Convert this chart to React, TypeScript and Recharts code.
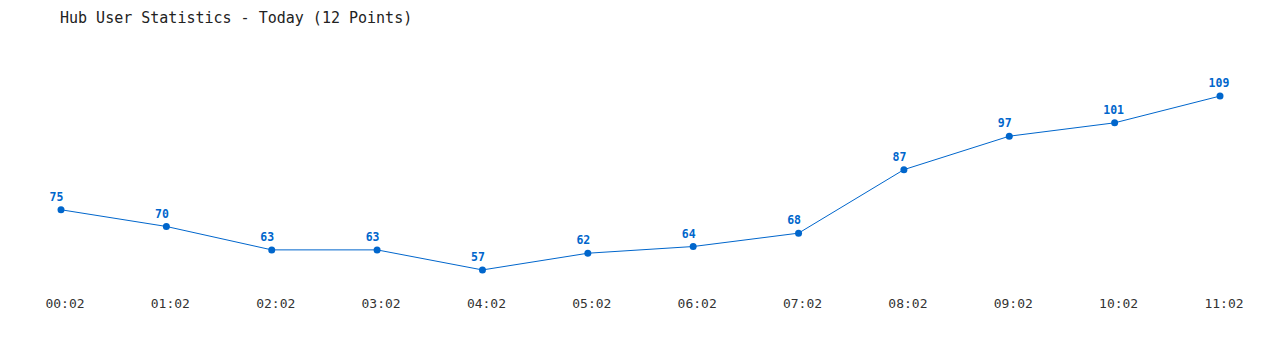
import React from "react";
import { LineChart, Line, XAxis, YAxis, LabelList } from "recharts";

const times = ["00:02", "01:02", "02:02", "03:02", "04:02", "05:02", "06:02", "07:02", "08:02", "09:02", "10:02", "11:02"];
const users = [75, 70, 63, 63, 57, 62, 64, 68, 87, 97, 101, 109];
const title = "Hub User Statistics - Today (12 Points)";

const data = times.map((t, i) => ({ time: t, users: users[i] }));

const FONT = '"DejaVu Sans Mono", monospace';
const BLUE = "#0066cc";

const renderLabel = (props: any) => {
  const { x, y, value } = props;
  return (
    <text
      x={Number(x) - 11.4}
      y={Number(y) - 8.8}
      textAnchor="start"
      style={{ fontFamily: FONT, fontSize: 11.5, fontWeight: "bold", fill: BLUE }}
    >
      {value}
    </text>
  );
};

export default function App() {
  return (
    <div style={{ position: "relative", width: 1264, height: 334, background: "#fff" }}>
      <div
        style={{
          position: "absolute",
          left: 52,
          top: 1,
          fontFamily: FONT,
          fontSize: 15,
          color: "#222",
          whiteSpace: "pre",
        }}
      >
        {title}
      </div>
      <LineChart width={1264} height={334} data={data} margin={{ top: 68, right: 52, bottom: 22, left: 53 }}>
        <XAxis
          dataKey="time"
          axisLine={false}
          tickLine={false}
          tickMargin={3}
          height={30}
          interval={0}
          tick={{ fontFamily: FONT, fontSize: 13, fill: "#333", dx: 4 }}
        />
        <YAxis hide domain={[51, 115]} />
        <Line
          type="linear"
          dataKey="users"
          stroke={BLUE}
          strokeWidth={1}
          dot={{ r: 3.5, fill: BLUE, stroke: BLUE, strokeWidth: 0 }}
          activeDot={false}
          isAnimationActive={false}
        >
          <LabelList dataKey="users" content={renderLabel} />
        </Line>
      </LineChart>
    </div>
  );
}
